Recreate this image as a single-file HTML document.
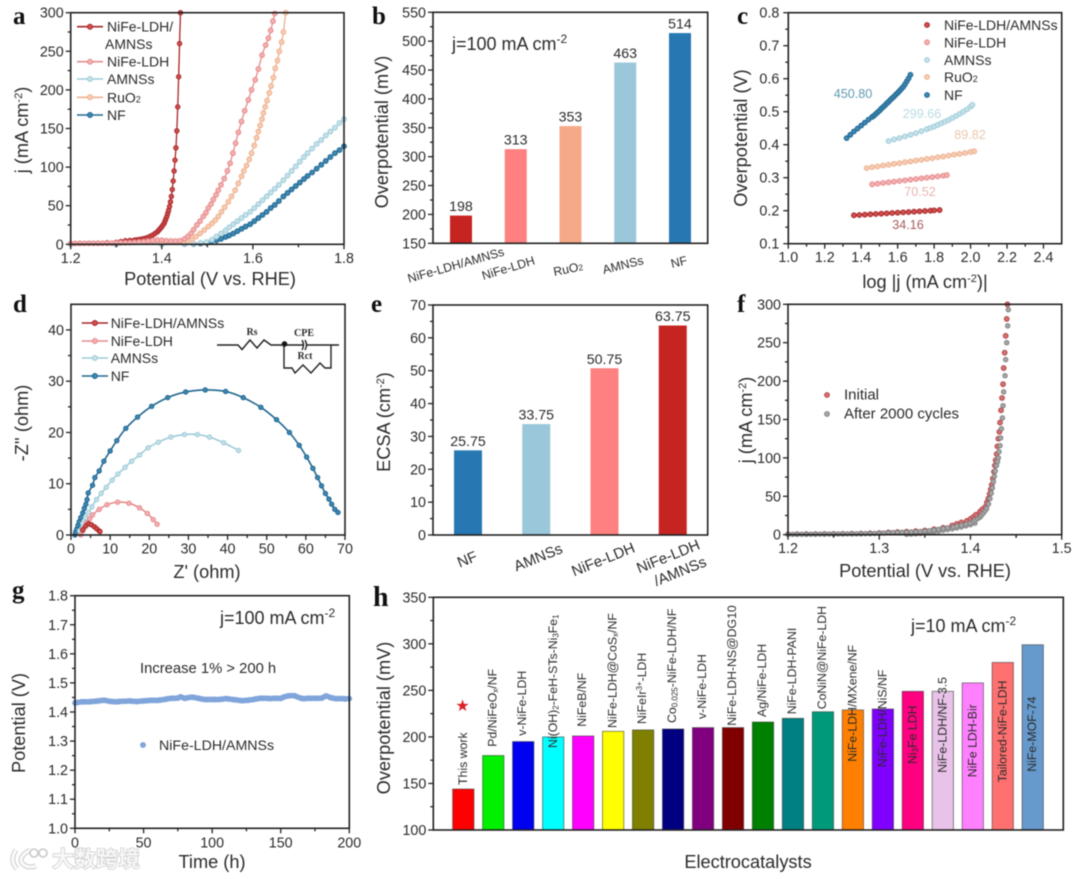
<!DOCTYPE html>
<html lang="en">
<head>
<meta charset="utf-8">
<title>Electrocatalyst performance figure</title>
<style>
html,body{margin:0;padding:0;background:#fff;width:1080px;height:879px;overflow:hidden}
svg{display:block;filter:blur(0.55px)}
text{font-family:"Liberation Sans","Noto Sans CJK SC",sans-serif;fill:#2b2b2b}
.letter{font-family:"Liberation Serif",serif;font-weight:bold;font-size:25px;fill:#111}
.title{font-size:18.2px}
.legend{font-size:14px}
.note{font-size:18px}
.xl{font-size:12.3px}
.hl{font-size:12.3px}
.el{font-size:15px}
.circ{font-family:"Liberation Serif",serif;font-weight:bold;font-size:10px;text-anchor:middle}
</style>
</head>
<body>
<svg id="figure" width="1080" height="879" viewBox="0 0 1080 879">
<rect width="1080" height="879" fill="#fff"/>
<g id="charts"></g>

<text class="letter" x="13" y="24">a</text>
<text class="letter" x="372" y="24">b</text>
<text class="letter" x="737" y="24">c</text>
<text class="letter" x="13" y="312">d</text>
<text class="letter" x="371" y="312">e</text>
<text class="letter" x="737" y="312">f</text>
<text class="letter" x="12" y="598">g</text>
<text class="letter" x="373" y="606" style="font-size:28px">h</text>

<!-- axis titles -->
<text class="title" x="210" y="285" text-anchor="middle">Potential (V vs. RHE)</text>
<text class="title" transform="translate(28,130) rotate(-90)" text-anchor="middle">j (mA cm<tspan dy="-6" font-size="11">-2</tspan><tspan dy="6">)</tspan></text>
<text class="title" transform="translate(388,132) rotate(-90)" text-anchor="middle">Overpotential (mV)</text>
<text class="title" x="925" y="288" text-anchor="middle">log |j (mA cm<tspan dy="-6" font-size="11">-2</tspan><tspan dy="6">)|</tspan></text>
<text class="title" transform="translate(747,138) rotate(-90)" text-anchor="middle">Overpotential (V)</text>
<text class="title" x="207" y="578" text-anchor="middle">Z' (ohm)</text>
<text class="title" transform="translate(28,423) rotate(-90)" text-anchor="middle">-Z'' (ohm)</text>
<text class="title" transform="translate(390,422) rotate(-90)" text-anchor="middle">ECSA (cm<tspan dy="-6" font-size="11">-2</tspan><tspan dy="6">)</tspan></text>
<text class="title" x="925" y="577" text-anchor="middle">Potential (V vs. RHE)</text>
<text class="title" transform="translate(752,420) rotate(-90)" text-anchor="middle">j (mA cm<tspan dy="-6" font-size="11">-2</tspan><tspan dy="6">)</tspan></text>
<text class="title" x="212" y="868" text-anchor="middle">Time (h)</text>
<text class="title" transform="translate(25,723) rotate(-90)" text-anchor="middle">Potential (V)</text>
<text class="title" transform="translate(390,718) rotate(-90)" text-anchor="middle">Overpotential (mV)</text>
<text class="title" x="748" y="868" text-anchor="middle">Electrocatalysts</text>

<!-- notes -->
<text class="note" x="452" y="50">j=100 mA cm<tspan dy="-7" font-size="12">-2</tspan></text>
<text class="note" x="220" y="624">j=100 mA cm<tspan dy="-7" font-size="12">-2</tspan></text>
<text class="note" x="911" y="632">j=10 mA cm<tspan dy="-7" font-size="12">-2</tspan></text>
<text x="140" y="673" style="font-size:14.8px">Increase 1% &gt; 200 h</text>

<!-- b categories -->
<g class="xl">
<text transform="translate(457,269) rotate(-16)" text-anchor="middle">NiFe-LDH/AMNSs</text>
<text transform="translate(509.5,272) rotate(-17)" text-anchor="middle">NiFe-LDH</text>
<text transform="translate(569,273) rotate(-12)" text-anchor="middle">RuO<tspan font-size="8.5">2</tspan></text>
<text transform="translate(624,269) rotate(-14)" text-anchor="middle">AMNSs</text>
<text transform="translate(680,266) rotate(-14)" text-anchor="middle">NF</text>
</g>

<!-- e categories -->
<g class="el">
<text transform="translate(469,564) rotate(-22)" text-anchor="middle">NF</text>
<text transform="translate(540,562) rotate(-22)" text-anchor="middle">AMNSs</text>
<text transform="translate(605,564) rotate(-22)" text-anchor="middle">NiFe-LDH</text>
<text transform="translate(670,561) rotate(-22)" text-anchor="middle">NiFe-LDH</text>
<text transform="translate(682,576) rotate(-22)" text-anchor="middle">/AMNSs</text>
</g>

<!-- circuit -->
<g id="circuit" fill="none" stroke="#222" stroke-width="1.4">
<polyline points="217,345 238,345 242,349.5 250,340 257,348 264,340 271,345 303,345"/>
<path d="M302,340 q3,5 0,10 M305,340 q3,5 0,10"/>
<polyline points="306,345 339,345"/>
<polyline points="284,345 284,368 292,368 295,373 303,365 311,373 320,363 325,368 331,368 331,345"/>
<circle cx="284.5" cy="344" r="2.2" fill="#111"/>
<text class="circ" x="252" y="335" stroke="none">Rs</text>
<text class="circ" x="304" y="336" stroke="none">CPE</text>
<text class="circ" x="305" y="359" stroke="none">Rct</text>
</g>

<!-- h category labels -->
<g class="hl">
<text transform="translate(467,785) rotate(-90)">This work</text>
<text transform="translate(496.5,746.7) rotate(-90)">Pd/NiFeO<tspan font-size="8" dy="1.5">x</tspan><tspan dy="-1.5">/NF</tspan></text>
<text transform="translate(526,735.7) rotate(-90)">v-NiFe-LDH</text>
<text transform="translate(557,748) rotate(-90)">Ni(OH)<tspan font-size="8" dy="1.5">2</tspan><tspan dy="-1.5">-FeH-STs-Ni</tspan><tspan font-size="8" dy="1.5">3</tspan><tspan dy="-1.5">Fe</tspan><tspan font-size="8" dy="1.5">1</tspan></text>
<text transform="translate(586,726.7) rotate(-90)">NiFeB/NF</text>
<text transform="translate(616.5,728) rotate(-90)">NiFe-LDH@CoS<tspan font-size="8" dy="1.5">x</tspan><tspan dy="-1.5">/NF</tspan></text>
<text transform="translate(646,724) rotate(-90)">NiFeIr<tspan font-size="8" dy="-4">3+</tspan><tspan dy="4">-LDH</tspan></text>
<text transform="translate(676,723) rotate(-90)">Co<tspan font-size="8" dy="1.5">0.025</tspan><tspan dy="-1.5">-NiFe-LDH/NF</tspan></text>
<text transform="translate(706,719) rotate(-90)">v-NiFe-LDH</text>
<text transform="translate(736,725.7) rotate(-90)">NiFe-LDH-NS@DG10</text>
<text transform="translate(766,717) rotate(-90)">Ag/NiFe-LDH</text>
<text transform="translate(796,714.3) rotate(-90)">NiFe-LDH-PANI</text>
<text transform="translate(826,709.3) rotate(-90)">CoNiN@NiFe-LDH</text>
<text transform="translate(856.5,761.7) rotate(-90)">NiFe-LDH/MXene/NF</text>
<text transform="translate(886.5,767.3) rotate(-90)">NiFe-LDH/NiS/NF</text>
<text transform="translate(916.5,764) rotate(-90)">Ni<tspan font-size="8" dy="1.5">3</tspan><tspan dy="-1.5">Fe LDH</tspan></text>
<text transform="translate(946.5,772.7) rotate(-90)">NiFe-LDH/NF-3.5</text>
<text transform="translate(976.5,777.3) rotate(-90)">NiFe LDH-Bir</text>
<text transform="translate(1006.5,782.3) rotate(-90)">Tailored-NiFe-LDH</text>
<text transform="translate(1036,771.7) rotate(-90)">NiFe-MOF-74</text>
</g>
<text x="462.5" y="711" text-anchor="middle" style="font-family:'DejaVu Sans',sans-serif;font-size:16px;fill:#dc1f26">★</text>

<!-- watermark -->
<g>
<path d="M16,850 q-7,10 1,19 M30,850 q-12,7 -8,13 q5,6 14,3" fill="none" stroke="#cdcdcd" stroke-width="5"/>
<path d="M16,850 q-7,10 1,19 M30,850 q-12,7 -8,13 q5,6 14,3" fill="none" stroke="#fafafa" stroke-width="3"/>
<circle cx="34" cy="853" r="4" fill="#fff" stroke="#c8c8c8" stroke-width="1.6"/>
<circle cx="43" cy="853" r="4" fill="#fff" stroke="#c8c8c8" stroke-width="1.6"/>
<text x="52" y="867" style="font-family:'Liberation Sans','Noto Sans CJK SC',sans-serif;font-size:22px;font-weight:bold;fill:#f8f8f8;stroke:#c4c4c4;stroke-width:1.2px;paint-order:stroke">大数跨境</text>
</g>
</svg>

<script>
// ---------- panel a : LSV curves ----------
const aXTicks=[1.2,1.4,1.6,1.8];
const aYTicks=[0,50,100,150,200,250,300];
const aCompositeV=[1.20,1.22,1.24,1.26,1.28,1.30,1.31,1.32,1.33,1.34,1.345,1.35,1.355,1.36,1.365,1.37,1.375,1.38,1.385,1.39,1.393,1.396,1.399,1.402,1.405,1.407,1.409,1.411,1.413,1.415,1.417,1.419,1.421,1.423,1.425,1.427,1.429,1.431,1.433,1.435,1.437,1.439,1.441];
const aCompositeJ=[1.0,1.2,1.4,1.6,2.0,2.6,3.5,4.6,5.0,5.5,5.8,6.2,6.7,7.2,8,9,10.5,12,14,16,18,20,22,24.5,27,30,33,36,40,44,49,55,62,71,82,95,109,125,147,178,217,260,300];
const aLdhV=[1.20,1.21,1.22,1.23,1.24,1.25,1.26,1.27,1.28,1.29,1.30,1.31,1.32,1.33,1.34,1.35,1.36,1.37,1.38,1.39,1.40,1.41,1.42,1.43,1.44,1.45,1.457,1.464,1.47,1.477,1.484,1.491,1.497,1.502,1.508,1.513,1.519,1.524,1.53,1.537,1.544,1.55,1.556,1.562,1.568,1.575,1.582,1.59,1.597,1.605,1.612,1.62,1.628,1.634,1.639,1.644,1.648];
const aLdhJ=[1,1.1,1.1,1.2,1.2,1.3,1.3,1.4,1.4,1.5,1.7,1.9,2,2.2,2.5,3,3.5,4.2,5,5.5,5.2,4.6,4.2,4.2,4.6,7,10,14,19,25,30,36,41,47,52,58,64,70,77,85,95,105,118,131,145,159,173,187,200,213,227,245,258,267,277,289,299];
const aRuV=[1.30,1.40,1.43,1.447,1.457,1.466,1.475,1.484,1.493,1.502,1.51,1.517,1.524,1.531,1.538,1.546,1.553,1.561,1.568,1.575,1.58,1.586,1.592,1.597,1.603,1.608,1.612,1.616,1.62,1.623,1.627,1.631,1.636,1.64,1.645,1.649,1.654,1.658,1.663,1.667,1.672];
const aRuJ=[1.5,2.5,3,4,5,6,10,14,18.5,23,27,31,36,42,48,55,62,70,79,88,95,102,110,118,128,138,146,154,162,170,178,186,196,205,216,228,238,250,262,275,300];
const aAmnsV=[1.2,1.3,1.4,1.45,1.47,1.485,1.498,1.51,1.52,1.53,1.54,1.548,1.557,1.566,1.575,1.584,1.594,1.603,1.612,1.621,1.63,1.639,1.648,1.657,1.667,1.676,1.685,1.694,1.703,1.712,1.72,1.73,1.74,1.75,1.76,1.77,1.78,1.79,1.80];
const aAmnsJ=[0,0.3,0.5,0.8,1,2,3,6,10,14,18,22,26,30,34,38,42,47,52,57,62,67,72,77,83,89,95,101,107,113,118,124,130,135,141,146,151,157,162];
const aNfV=[1.2,1.3,1.4,1.45,1.47,1.485,1.498,1.508,1.52,1.53,1.54,1.548,1.557,1.566,1.575,1.584,1.594,1.603,1.612,1.621,1.63,1.639,1.648,1.657,1.667,1.676,1.685,1.694,1.703,1.712,1.72,1.73,1.74,1.75,1.76,1.77,1.78,1.79,1.80];
const aNfJ=[0,0.2,0.3,0.4,0.5,1,2,3,5,7,9.5,11.5,14,17,20,23,26,30,34,38,42,47,51,56,62,66.5,71,75.5,80,84.5,88.5,93,98,103,108,113,118,122,127];

// ---------- panel b : overpotential bars ----------
const bCategories=["NiFe-LDH/AMNSs","NiFe-LDH","RuO2","AMNSs","NF"];
const bValues=[198,313,353,463,514];
const bYTicks=[150,200,250,300,350,400,450,500,550];
const bColors=["#c62420","#ff8080","#f6a988","#9ac8da","#2777b2"];

// ---------- panel c : Tafel ----------
const cXTicks=[1.0,1.2,1.4,1.6,1.8,2.0,2.2,2.4];
const cYTicks=[0.1,0.2,0.3,0.4,0.5,0.6,0.7,0.8];
const cCompositeX=[1.36,1.39,1.42,1.45,1.48,1.51,1.54,1.57,1.60,1.63,1.66,1.69,1.72,1.75,1.78,1.80,1.83];
const cCompositeY=[0.186,0.187,0.188,0.189,0.190,0.191,0.192,0.193,0.194,0.195,0.196,0.197,0.198,0.199,0.200,0.201,0.202];
const cLdhX=[1.46,1.49,1.52,1.55,1.58,1.61,1.64,1.67,1.70,1.73,1.76,1.79,1.82,1.85,1.87];
const cLdhY=[0.280,0.282,0.284,0.286,0.288,0.290,0.292,0.294,0.296,0.298,0.300,0.302,0.304,0.306,0.308];
const cRuX=[1.43,1.46,1.49,1.52,1.55,1.58,1.61,1.64,1.67,1.70,1.73,1.76,1.79,1.82,1.85,1.88,1.91,1.94,1.97,2.0,2.02];
const cRuY=[0.329,0.332,0.334,0.337,0.339,0.342,0.344,0.347,0.349,0.352,0.354,0.357,0.359,0.362,0.364,0.367,0.370,0.372,0.375,0.378,0.380];
const cAmnsX=[1.55,1.58,1.61,1.64,1.67,1.70,1.73,1.76,1.78,1.80,1.82,1.84,1.86,1.88,1.90,1.92,1.94,1.96,1.98,2.0,2.01];
const cAmnsY=[0.411,0.416,0.420,0.425,0.430,0.435,0.441,0.447,0.451,0.455,0.460,0.465,0.470,0.475,0.481,0.487,0.493,0.500,0.507,0.515,0.521];
const cNfX=[1.32,1.34,1.36,1.38,1.40,1.42,1.44,1.46,1.47,1.48,1.49,1.50,1.51,1.52,1.53,1.54,1.55,1.56,1.57,1.58,1.59,1.60,1.61,1.62,1.63,1.64,1.65,1.66,1.67];
const cNfY=[0.420,0.430,0.440,0.449,0.458,0.467,0.476,0.484,0.488,0.493,0.498,0.503,0.509,0.514,0.519,0.525,0.530,0.536,0.541,0.546,0.552,0.557,0.563,0.569,0.575,0.583,0.592,0.601,0.612];
const cSlopeLabels=["450.80","299.66","89.82","70.52","34.16"];

// ---------- panel d : Nyquist ----------
const dXTicks=[0,10,20,30,40,50,60,70];
const dYTicks=[0,10,20,30,40];
const dCompositeX=[3.0,3.8,4.5,5.2,6.0,6.6,7.2,7.4];
const dCompositeY=[1.0,1.8,2.2,2.0,1.6,1.2,0.8,0.7];
const dLdhX=[2.5,3.0,3.5,4.1,4.8,5.5,7.2,9.2,11.9,14.8,17.5,19.5,21.0,22.0];
const dLdhY=[0,0.8,1.5,2.4,3.2,3.9,5.0,5.9,6.4,6.2,5.3,4.2,3.0,2.1];
const dAmnsX=[2.2,3.0,3.7,4.5,5.3,6.5,7.7,9.0,10.5,12.0,13.8,15.5,17.5,19.7,22.3,25.5,29.0,32.3,35.4,39.0,42.8];
const dAmnsY=[0.8,2.2,3.3,4.4,5.5,6.9,8.1,9.3,10.7,11.9,13.2,14.4,15.6,17.0,18.1,19.1,19.6,19.6,19.1,18.0,16.5];
const dNfX=[1.0,1.2,1.5,1.8,2.1,2.5,3.0,3.4,3.8,4.1,4.4,5.5,6.1,7.2,8.4,10,11.7,14,17,20.6,24.7,29.3,34.3,39.5,44,48.5,52.5,55.8,58.3,60.2,61.8,63,64,65,65.9,66.6,67.4,68.2];
const dNfY=[0,0.6,1.2,1.9,2.6,3.4,4.3,5.2,6.0,6.9,8.2,9.7,11.2,12.5,14.4,16.4,18.4,20.8,23,25.1,26.8,27.9,28.3,28,26.8,24.9,22.5,20,17.5,15.2,13,11.2,9.6,8.1,7,6,5,4.4];

// ---------- panel e : ECSA bars ----------
const eCategories=["NF","AMNSs","NiFe-LDH","NiFe-LDH/AMNSs"];
const eValues=[25.75,33.75,50.75,63.75];
const eYTicks=[0,10,20,30,40,50,60,70];
const eColors=["#2777b2","#9ac8da","#ff8080","#c62420"];

// ---------- panel f : stability LSV ----------
const fXTicks=[1.2,1.3,1.4,1.5];
const fYTicks=[0,50,100,150,200,250,300];
const fInitialV=[1.20,1.21,1.22,1.23,1.24,1.25,1.26,1.27,1.28,1.29,1.30,1.31,1.32,1.33,1.34,1.35,1.36,1.37,1.38,1.385,1.39,1.396,1.40,1.4032,1.406,1.4105,1.413,1.416,1.418,1.4196,1.421,1.4222,1.4233,1.4245,1.4258,1.4267,1.4276,1.4287,1.4295,1.4306,1.4317,1.4324,1.4335,1.4346,1.4357,1.4364,1.4375,1.4386,1.4397,1.4405];
const fInitialJ=[0.6,0.7,0.8,0.9,1.0,1.1,1.2,1.3,1.5,1.8,2.2,3,3.5,4,4.6,5.5,7,9,12,14,16,18,20.5,23,26,30,33,36,42,47,53,59,65,73,82,90,97,105,115,125,134,146,162,178,196,217,237,259,281,300];
const fAfterV=[1.20,1.205,1.21,1.215,1.22,1.225,1.23,1.235,1.24,1.245,1.25,1.255,1.26,1.265,1.27,1.275,1.28,1.285,1.29,1.295,1.30,1.305,1.31,1.315,1.32,1.325,1.33,1.335,1.34,1.345,1.35,1.355,1.36,1.365,1.37,1.375,1.381,1.385,1.39,1.395,1.3995,1.403,1.405,1.408,1.4105,1.412,1.414,1.416,1.4178,1.4198,1.4214,1.4228,1.424,1.4251,1.4262,1.4272,1.4285,1.4296,1.4306,1.4313,1.4324,1.4331,1.4339,1.435,1.4357,1.4364,1.4379,1.4386,1.4397,1.4408,1.4415];
const fAfterJ=[0.5,0.5,0.6,0.6,0.7,0.7,0.8,0.8,0.9,0.9,1.0,1.0,1.1,1.1,1.2,1.2,1.3,1.4,1.5,1.6,1.8,2.1,2.5,2.8,3,3.2,3.3,3.5,3.8,4.2,4.6,5.2,6,7,8,9,10,11,12,13.5,15,17,19,21,23,25,28,31,34,40,47,54,61,69,76,83,90,95,100,108,116,126,138,152,168,186,207,228,250,272,293];
const fLowerV=[1.33,1.335,1.34,1.345,1.35,1.355,1.36,1.365,1.37,1.375,1.38,1.385,1.39,1.395,1.40,1.405];
const fLowerJ=[0.5,0.8,1.2,1.6,2.2,3,3.8,4.6,5.6,6.6,7.6,8.8,10,11.5,13,15];

// ---------- panel g : chronopotentiometry ----------
const gXTicks=[0,50,100,150,200];
const gYTicks=[1.0,1.1,1.2,1.3,1.4,1.5,1.6,1.7,1.8];
const gTime=[0,2,5,7,10,12,15,17,20,22,25,27,30,32,35,37,40,42,45,47,50,52,55,57,60,62,65,67,70,72,75,77,80,82,85,87,90,92,95,97,100,102,105,107,110,112,115,117,120,122,125,127,130,132,135,137,140,142,145,147,150,152,155,157,160,162,165,167,170,172,175,177,180,183,186,188,190,192,195,197,200];
const gPotential=[1.431,1.433,1.435,1.435,1.435,1.436,1.437,1.438,1.440,1.440,1.437,1.436,1.435,1.436,1.437,1.437,1.438,1.437,1.436,1.437,1.438,1.439,1.440,1.440,1.440,1.441,1.443,1.445,1.447,1.447,1.448,1.452,1.447,1.449,1.451,1.450,1.447,1.445,1.443,1.443,1.443,1.443,1.443,1.444,1.446,1.445,1.443,1.442,1.440,1.439,1.440,1.441,1.443,1.445,1.447,1.447,1.447,1.446,1.447,1.447,1.447,1.451,1.455,1.456,1.456,1.452,1.447,1.446,1.447,1.447,1.447,1.447,1.448,1.455,1.450,1.448,1.446,1.446,1.446,1.445,1.446];

// ---------- panel h : literature comparison ----------
const hCategories=["This work","Pd/NiFeOx/NF","v-NiFe-LDH","Ni(OH)2-FeH-STs-Ni3Fe1","NiFeB/NF","NiFe-LDH@CoSx/NF","NiFeIr3+-LDH","Co0.025-NiFe-LDH/NF","v-NiFe-LDH","NiFe-LDH-NS@DG10","Ag/NiFe-LDH","NiFe-LDH-PANI","CoNiN@NiFe-LDH","NiFe-LDH/MXene/NF","NiFe-LDH/NiS/NF","Ni3Fe LDH","NiFe-LDH/NF-3.5","NiFe LDH-Bir","Tailored-NiFe-LDH","NiFe-MOF-74"];
const hValues=[144,180,195,200,201,206,207.5,208.5,210,210,216,220,227,229,230,249,249,258,280,299];
const hYTicks=[100,150,200,250,300,350];
const hColors=["#ff0000","#00f000","#0000f0","#00ffff","#ff00ff","#ffff00","#808000","#000080","#800080","#800000","#008000","#008080","#009a7a","#ff8000","#7f00ff","#ff0080","#e8c2e8","#ff80ff","#ff7070","#6699cc"];

// ---------- helpers ----------
const root=document.getElementById('charts');
const NS='http://www.w3.org/2000/svg';
function make(tag,attrs,parent,name,content){
  const e=document.createElementNS(NS,tag);
  for(const k in attrs){e.setAttribute(k,attrs[k]);}
  
  
  if(content!==undefined){e.textContent=content;}
  parent.appendChild(e);
  return e;
}
function makeAxes(id,box,xDom,yDom){
  const g=make('g',{},root,id+'-chart');
  return {id:id,box:box,g:g,
    x:v=>box.l+(v-xDom[0])/(xDom[1]-xDom[0])*(box.r-box.l),
    y:v=>box.b-(v-yDom[0])/(yDom[1]-yDom[0])*(box.b-box.t)};
}
function drawFrame(p,xTicks,yTicks,xDec,yDec,opt){
  opt=opt||{};
  const b=p.box, fs=opt.fs||14.3;
  const g=make('g',{stroke:'#222','stroke-width':1.3},p.g,p.id+'-axes');
  make('rect',{x:b.l,y:b.t,width:b.r-b.l,height:b.b-b.t,fill:'none','stroke-width':1.6},g,p.id+'-plot-frame');
  function yTick(v,len,nm){make('line',{x1:b.l-len,x2:b.l,y1:p.y(v),y2:p.y(v)},g,nm);}
  function xTick(v,len,nm){make('line',{x1:p.x(v),x2:p.x(v),y1:b.b,y2:b.b+len},g,nm);}
  yTicks.forEach((v,i)=>{
    yTick(v,5,p.id+'-y-tick');
    make('text',{x:b.l-(opt.ylGap||7),y:p.y(v)+5,'text-anchor':'end','font-size':fs,stroke:'none'},g,p.id+'-y-tick-label',v.toFixed(yDec));
    if(i<yTicks.length-1){yTick((v+yTicks[i+1])/2,3,p.id+'-y-minor-tick');}
  });
  if(xTicks){
    xTicks.forEach((v,i)=>{
      xTick(v,5,p.id+'-x-tick');
      make('text',{x:p.x(v),y:b.b+(opt.xlGap||18.5),'text-anchor':'middle','font-size':fs,stroke:'none'},g,p.id+'-x-tick-label',v.toFixed(xDec));
      if(i<xTicks.length-1){xTick((v+xTicks[i+1])/2,3,p.id+'-x-minor-tick');}
    });
    if(opt.extraMinor!==undefined){xTick(opt.extraMinor,3,p.id+'-x-minor-tick');}
  }
}
function smoothPath(px,py){
  let d='M'+px[0].toFixed(2)+','+py[0].toFixed(2);
  for(let i=0;i<px.length-1;i++){
    const a=Math.max(i-1,0), c=i+1, e=Math.min(i+2,px.length-1);
    const c1x=px[i]+(px[c]-px[a])/6, c1y=py[i]+(py[c]-py[a])/6;
    const c2x=px[c]-(px[e]-px[i])/6, c2y=py[c]-(py[e]-py[i])/6;
    d+=' C'+c1x.toFixed(2)+','+c1y.toFixed(2)+' '+c2x.toFixed(2)+','+c2y.toFixed(2)+' '+px[c].toFixed(2)+','+py[c].toFixed(2);
  }
  return d;
}
function series(p,name,xs,ys,lineColor,markStroke,markFill,r,lineW){
  const g=make('g',{},p.g,p.id+'-series-'+name);
  if(lineW){
    make('path',{d:smoothPath(xs.map(p.x),ys.map(p.y)),fill:'none',stroke:lineColor,'stroke-width':lineW,'stroke-linejoin':'round'},g,p.id+'-line-'+name);
  }
  xs.forEach((v,i)=>{
    make('circle',{cx:p.x(v),cy:p.y(ys[i]),r:r,fill:markFill,stroke:markStroke,'stroke-width':1},g,p.id+'-point-'+name);
  });
}
function bars(p,name,values,centerPx,w,colors,labels,stroke){
  const g=make('g',{},p.g,p.id+'-bars');
  values.forEach((v,i)=>{
    const cx=centerPx(i), top=p.y(v);
    const attrs={x:cx-w/2,y:top,width:w,height:p.box.b-top,fill:colors[i]};
    if(stroke){attrs.stroke=stroke;attrs['stroke-width']=1;}
    make('rect',attrs,g,p.id+'-bar-'+(i+1));
    if(labels){make('text',{x:cx,y:top-4.5,'text-anchor':'middle','font-size':14.2},g,p.id+'-bar-value-'+(i+1),labels(v));}
  });
}
function legendLine(g,name,x1,x2,y,color,mark,textX,label,small){
  make('line',{x1:x1,x2:x2,y1:y,y2:y,stroke:color,'stroke-width':1.6},g,'legend-line-'+name);
  make('circle',{cx:(x1+x2)/2,cy:y,r:2.5,fill:mark,stroke:color,'stroke-width':1},g,'legend-marker-'+name);
  const t=make('text',{x:textX,y:y+5,'font-size':14},g,'legend-label-'+name,label);
  if(small){
    make('tspan',{'font-size':9},t,'legend-subscript-'+name,small);
  }
}
const C={comp:['#a82528','#d0504f'],ldh:['#e58c8e','#f4b0b0'],amns:['#9ecbd8','#c6e2ea'],ru:['#eeb08f','#f6cdb4'],nf:['#21678f','#3f88b4']};

// panel a
const pa=makeAxes('a',{l:70.7,r:344,t:12.7,b:244.3},[1.2,1.8],[0,300]);
series(pa,'nf',aNfV,aNfJ,C.nf[0],C.nf[0],C.nf[1],2.4,1.3);
series(pa,'amnss',aAmnsV,aAmnsJ,C.amns[0],C.amns[0],C.amns[1],2.4,1.3);
series(pa,'ruo2',aRuV,aRuJ,C.ru[0],C.ru[0],C.ru[1],2.4,1.3);
series(pa,'composite',aCompositeV,aCompositeJ,C.comp[0],C.comp[0],C.comp[1],2.2,1.3);
series(pa,'nife-ldh',aLdhV,aLdhJ,C.ldh[0],C.ldh[0],C.ldh[1],2.4,1.3);
drawFrame(pa,aXTicks,aYTicks,1,0);
const la=make('g',{},pa.g,'a-legend');
legendLine(la,'a-composite',77,103,26.7,C.comp[0],C.comp[1],107,'NiFe-LDH/');
make('text',{x:105,y:49,'font-size':14},la,'legend-label-a-composite-2','AMNSs');
legendLine(la,'a-ldh',77,103,61.7,C.ldh[0],C.ldh[1],107,'NiFe-LDH');
legendLine(la,'a-amnss',77,103,79,C.amns[0],C.amns[1],107,'AMNSs');
legendLine(la,'a-ruo2',77,103,97.3,C.ru[0],C.ru[1],107,'RuO','2');
legendLine(la,'a-nf',77,103,115,C.nf[0],C.nf[1],107,'NF');

// panel b
const pb=makeAxes('b',{l:433,r:707.7,t:12.3,b:243.3},[0,1],[150,550]);
bars(pb,'overpotential',bValues,i=>461+i*54.75,22,bColors,v=>String(v));
drawFrame(pb,null,bYTicks,0,0);

// panel c
const pc=makeAxes('c',{l:788.3,r:1061.7,t:12.7,b:243.7},[1.0,2.5],[0.1,0.8]);
series(pc,'composite',cCompositeX,cCompositeY,'',C.comp[0],C.comp[1],2.4,0);
series(pc,'nife-ldh',cLdhX,cLdhY,'',C.ldh[0],C.ldh[1],2.4,0);
series(pc,'ruo2',cRuX,cRuY,'',C.ru[0],C.ru[1],2.4,0);
series(pc,'amnss',cAmnsX,cAmnsY,'',C.amns[0],C.amns[1],2.4,0);
series(pc,'nf',cNfX,cNfY,'',C.nf[0],C.nf[1],2.4,0);
drawFrame(pc,cXTicks,cYTicks,1,1,{ylGap:9});
const lc=make('g',{},pc.g,'c-legend');
[['composite',25,'NiFe-LDH/AMNSs',C.comp],['ldh',42.3,'NiFe-LDH',C.ldh],['amnss',60,'AMNSs',C.amns],['ruo2',77,'RuO',C.ru],['nf',95,'NF',C.nf]].forEach(r=>{
  make('circle',{cx:927,cy:r[1],r:2.4,fill:r[3][1],stroke:r[3][0],'stroke-width':1},lc,'c-legend-marker-'+r[0]);
  const t=make('text',{x:944,y:r[1]+5,'font-size':14},lc,'c-legend-label-'+r[0],r[2]);
  if(r[0]==='ruo2'){make('tspan',{'font-size':9},t,'c-legend-subscript','2');}
});
const cSlopeColors=['#5f9ab2','#bcdce3','#e9c8ae','#e8b4b0','#a85a5c'];
const cg=make('g',{},pc.g,'c-slope-labels');
make('text',{x:853,y:98,'text-anchor':'middle','font-size':12.6,style:'fill:'+cSlopeColors[0]},cg,'c-slope-nf',cSlopeLabels[0]);
make('text',{x:922,y:118,'text-anchor':'middle','font-size':12.6,style:'fill:'+cSlopeColors[1]},cg,'c-slope-amnss',cSlopeLabels[1]);
make('text',{x:970,y:139,'text-anchor':'middle','font-size':12.6,style:'fill:'+cSlopeColors[2]},cg,'c-slope-ruo2',cSlopeLabels[2]);
make('text',{x:920,y:196,'text-anchor':'middle','font-size':12.6,style:'fill:'+cSlopeColors[3]},cg,'c-slope-nife-ldh',cSlopeLabels[3]);
make('text',{x:908,y:229,'text-anchor':'middle','font-size':12.6,style:'fill:'+cSlopeColors[4]},cg,'c-slope-composite',cSlopeLabels[4]);

// panel d
const pd=makeAxes('d',{l:71,r:345,t:304.3,b:535},[0,70],[0,45]);
series(pd,'nf',dNfX,dNfY,C.nf[0],C.nf[0],C.nf[1],2.2,1.6);
series(pd,'amnss',dAmnsX,dAmnsY,C.amns[0],C.amns[0],C.amns[1],2.2,1.6);
series(pd,'nife-ldh',dLdhX,dLdhY,C.ldh[0],C.ldh[0],C.ldh[1],2.2,1.6);
series(pd,'composite',dCompositeX,dCompositeY,C.comp[0],C.comp[0],C.comp[1],2.2,1.6);
drawFrame(pd,dXTicks,dYTicks,0,0);
const ld=make('g',{},pd.g,'d-legend');
legendLine(ld,'d-composite',81.7,108,323,C.comp[0],C.comp[1],110.7,'NiFe-LDH/AMNSs');
legendLine(ld,'d-ldh',81.7,108,341,C.ldh[0],C.ldh[1],110.7,'NiFe-LDH');
legendLine(ld,'d-amnss',81.7,108,358,C.amns[0],C.amns[1],110.7,'AMNSs');
legendLine(ld,'d-nf',81.7,108,376,C.nf[0],C.nf[1],110.7,'NF');

// panel e
const pe=makeAxes('e',{l:433,r:707.7,t:305,b:535},[0,1],[0,70]);
bars(pe,'ecsa',eValues,i=>468+i*68.25,28,eColors,v=>v.toFixed(2));
drawFrame(pe,null,eYTicks,0,0);

// panel f
const pf=makeAxes('f',{l:788,r:1061.7,t:304.3,b:534.7},[1.2,1.5],[0,300]);
series(pf,'initial',fInitialV,fInitialJ,'','#b04a4e','#d67070',2.4,0);
series(pf,'after-lower',fLowerV,fLowerJ,'','#8a8a8a','#a8a8a8',2.2,0);
series(pf,'after',fAfterV,fAfterJ,'','#808080','#a8a8a8',2.2,0);
drawFrame(pf,fXTicks,fYTicks,1,0,{extraMinor:1.45});
const lf=make('g',{},pf.g,'f-legend');
make('circle',{cx:827,cy:395,r:2.4,fill:'#d67070',stroke:'#b04a4e','stroke-width':1},lf,'f-legend-marker-initial');
make('text',{x:844,y:399.5,'font-size':15},lf,'f-legend-label-initial','Initial');
make('circle',{cx:827,cy:414,r:2.4,fill:'#a8a8a8',stroke:'#808080','stroke-width':1},lf,'f-legend-marker-after');
make('text',{x:844,y:418.5,'font-size':15},lf,'f-legend-label-after','After 2000 cycles');

// panel g
const pg=makeAxes('g',{l:75,r:349.3,t:595.7,b:828.3},[0,200],[1.0,1.8]);
series(pg,'potential',gTime,gPotential,'#7fa5db','#7fa5db','#7fa5db',2.4,5.4);
drawFrame(pg,gXTicks,gYTicks,0,1,{xlGap:19});
make('circle',{cx:143,cy:745,r:2.4,fill:'#86a9dc',stroke:'#7399d0','stroke-width':1},pg.g,'g-legend-marker');
make('text',{x:159,y:750,'font-size':14.2},pg.g,'g-legend-label','NiFe-LDH/AMNSs');

// panel h
const ph=makeAxes('h',{l:433.3,r:1063.3,t:597.3,b:830},[0,1],[100,350]);
bars(ph,'literature',hValues,i=>463.3+i*29.97,21.3,hColors,null,'rgba(50,50,50,0.55)');
drawFrame(ph,null,hYTicks,0,0);
</script>
</body>
</html>
